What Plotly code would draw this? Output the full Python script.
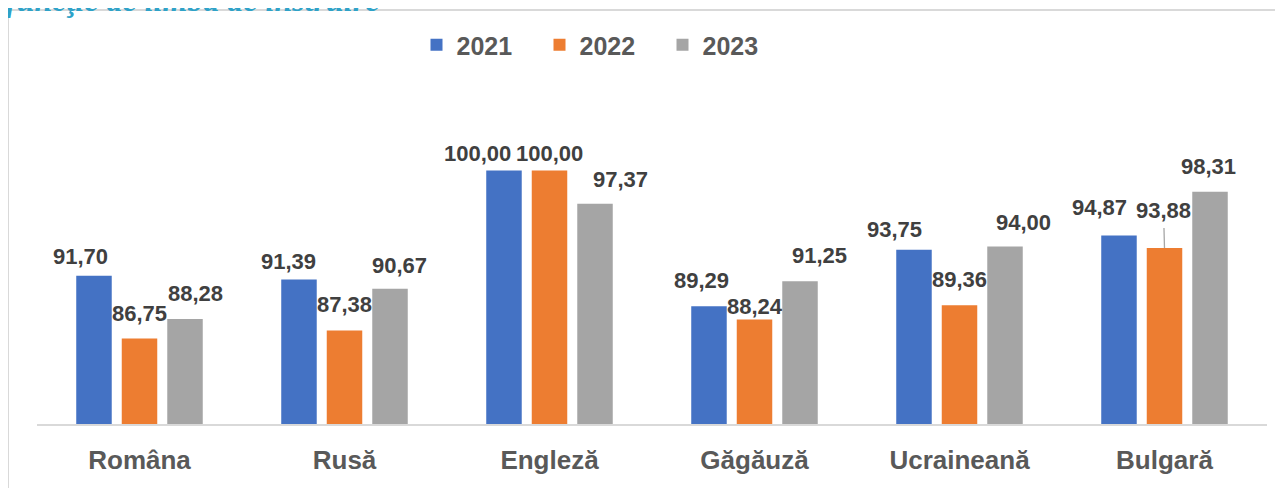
import plotly.graph_objects as go

# ---------------- data ----------------
categories = ["Româna", "Rusă", "Engleză", "Găgăuză", "Ucraineană", "Bulgară"]
years = ["2021", "2022", "2023"]
v2021 = [91.70, 91.39, 100.00, 89.29, 93.75, 94.87]
v2022 = [86.75, 87.38, 100.00, 88.24, 89.36, 93.88]
v2023 = [88.28, 90.67, 97.37, 91.25, 94.00, 98.31]
series = {"2021": v2021, "2022": v2022, "2023": v2023}
title_text = "funcţie de limba de instruire"

# ---------------- style ----------------
PAGE = 8                       # default page body margin
W, H = 1283 - PAGE, 488 - PAGE
ML, MR, MT, MB = 29, 16, 99, 64
PW, PH = W - ML - MR, H - MT - MB
Y_RANGE = [80, 105]
COLORS = {"2021": "#4472C4", "2022": "#ED7D31", "2023": "#A5A5A5"}
FONT = "Liberation Sans, Arial, sans-serif"
BARGAP, GROUPGAP = 0.334, 0.22
# label nudges (pixel offsets) mimicking the reference label placement
NUDGE_DX = {"2021": [-13, -10, -26, -7, -19, -19],
            "2022": [0, 0, 0, 0, 0, 0],
            "2023": [10, 9, 25, 19, 18, -2]}
GAP = {"2021": [11, 10, 8, 17, 12, 19],
       "2022": [16, 17, 8, 5, 17, 28],
       "2023": [17, 15, 16, 17, 15, 17]}
LEADER = ("2022", "Bulgară")
DESC = 6


def px_x(p):
    """reference page pixel x -> paper fraction"""
    return (p - PAGE - ML) / PW


def px_y(p):
    """reference page pixel y -> paper fraction"""
    return (H - MB - (p - PAGE)) / PH


fig = go.Figure()
for yr in years:
    fig.add_trace(go.Bar(
        x=categories, y=series[yr], name=yr,
        marker=dict(color=COLORS[yr], line=dict(width=0)),
    ))

cat_px = PW / len(categories)
slot_px = (1 - BARGAP) / len(years) * cat_px

annotations = []
for k, yr in enumerate(years):
    off = (k - 1) * slot_px
    for i, cat in enumerate(categories):
        val = series[yr][i]
        txt = f"{val:.2f}".replace(".", ",")
        font = dict(family=FONT, size=22, color="#404040", weight="bold")
        if (yr, cat) == LEADER:
            annotations.append(dict(
                x=cat, y=val, xref="x", yref="y", text=txt, font=font,
                showarrow=True, arrowhead=0, arrowwidth=1.3, arrowcolor="#A6A6A6",
                ax=-1, ay=-(GAP[yr][i] + 10), xshift=off, standoff=0, startstandoff=4,
            ))
        else:
            annotations.append(dict(
                x=cat, y=val, xref="x", yref="y", text=txt, font=font,
                showarrow=False, xanchor="center", yanchor="bottom",
                xshift=off + NUDGE_DX[yr][i], yshift=GAP[yr][i] - DESC,
            ))

annotations.append(dict(
    x=px_x(4), y=px_y(20), xref="paper", yref="paper", text=title_text,
    showarrow=False, xanchor="left", yanchor="bottom",
    font=dict(family="Liberation Serif, serif", size=32, color="#2EA2C8",
              style="italic", weight="bold"),
))

fig.update_layout(
    width=W, height=H,
    margin=dict(l=ML, r=MR, t=MT, b=MB, autoexpand=False),
    paper_bgcolor="white", plot_bgcolor="white",
    barmode="group", bargap=BARGAP, bargroupgap=GROUPGAP,
    showlegend=True,
    legend=dict(orientation="h", x=px_x(601), y=px_y(45),
                xanchor="center", yanchor="middle",
                font=dict(family=FONT, size=25, color="#595959", weight="bold"),
                entrywidth=78, entrywidthmode="pixels", traceorder="normal"),
    xaxis=dict(type="category", showline=True, linecolor="#D9D9D9", linewidth=2,
               ticks="", showgrid=False, zeroline=False, ticklabelstandoff=12,
               tickfont=dict(family=FONT, size=26, color="#595959", weight="bold")),
    yaxis=dict(range=Y_RANGE, visible=False, showgrid=False, zeroline=False),
    annotations=annotations,
    shapes=[dict(type="rect", xref="paper", yref="paper", layer="below",
                 x0=px_x(8), x1=px_x(1310), y0=px_y(520), y1=px_y(10),
                 line=dict(color="#D9D9D9", width=2))],
)

fig.write_html("out.html")
